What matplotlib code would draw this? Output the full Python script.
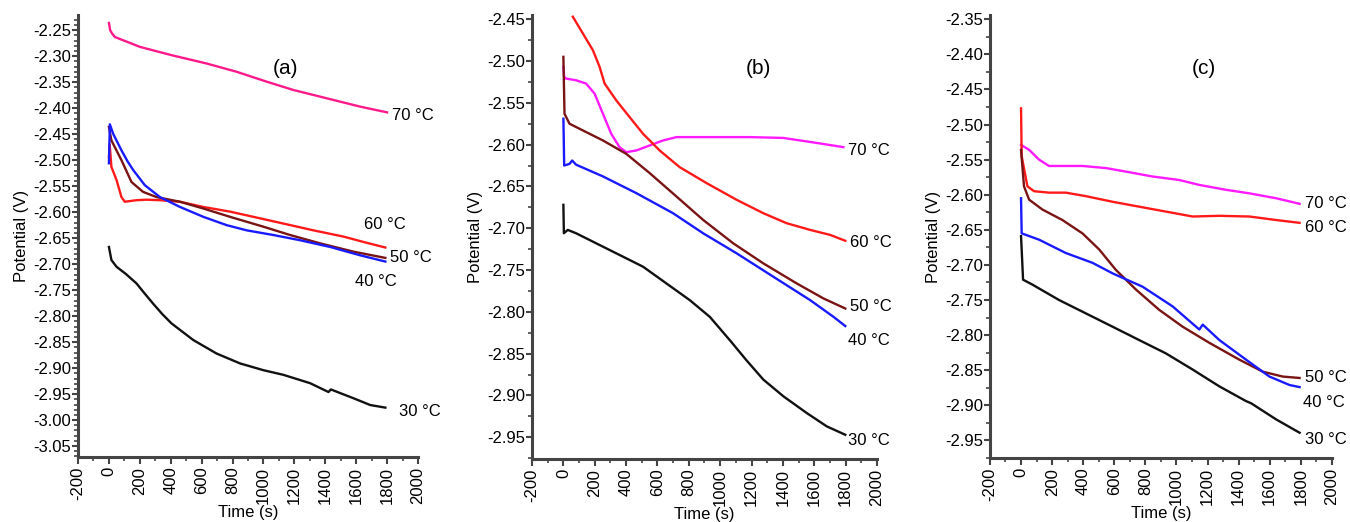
import numpy as np
import matplotlib
matplotlib.use('Agg')
import matplotlib.pyplot as plt
from matplotlib.ticker import MultipleLocator, FormatStrFormatter

plt.rcParams['font.family'] = ['Liberation Sans', 'DejaVu Sans']
plt.rcParams['axes.unicode_minus'] = False

# (time s, potential V), panel (a)
a_70 = [(0, -2.236), (8, -2.250), (20, -2.256), (38, -2.263), (200, -2.282), (405, -2.298),
        (632, -2.314), (827, -2.330), (1021, -2.349), (1194, -2.365), (1410, -2.381),
        (1626, -2.397), (1800, -2.408)]
a_60 = [(0, -2.494), (5, -2.470), (16, -2.513), (49, -2.538), (81, -2.571), (103, -2.580),
        (178, -2.577), (243, -2.576), (330, -2.577), (460, -2.580), (611, -2.590),
        (784, -2.599), (935, -2.609), (1130, -2.622), (1324, -2.635), (1518, -2.647),
        (1669, -2.659), (1789, -2.668)]
a_50 = [(0, -2.436), (16, -2.462), (81, -2.500), (146, -2.542), (221, -2.561), (308, -2.571),
        (460, -2.580), (611, -2.593), (784, -2.609), (1000, -2.628), (1173, -2.644),
        (1367, -2.660), (1583, -2.676), (1789, -2.688)]
a_40 = [(0, -2.506), (6, -2.431), (27, -2.449), (81, -2.481), (120, -2.502), (157, -2.519),
        (232, -2.548), (330, -2.571), (460, -2.590), (611, -2.609), (762, -2.625),
        (892, -2.635), (1065, -2.644), (1237, -2.654), (1432, -2.667), (1626, -2.683),
        (1789, -2.695)]
a_30 = [(0, -2.667), (16, -2.692), (49, -2.705), (110, -2.719), (178, -2.737), (230, -2.756),
        (286, -2.776), (345, -2.796), (405, -2.814), (546, -2.846), (697, -2.872),
        (849, -2.891), (1000, -2.904), (1130, -2.913), (1302, -2.929), (1421, -2.946),
        (1436, -2.941), (1583, -2.958), (1691, -2.971), (1789, -2.976)]

# panel (b)
b_70 = [(0, -2.507), (5, -2.519), (17, -2.521), (81, -2.523), (145, -2.527), (199, -2.539),
        (252, -2.563), (305, -2.587), (358, -2.603), (401, -2.609), (465, -2.607),
        (550, -2.601), (636, -2.595), (721, -2.591), (977, -2.591), (1190, -2.591),
        (1403, -2.592), (1616, -2.598), (1786, -2.603)]
b_60 = [(60, -2.447), (124, -2.467), (188, -2.487), (231, -2.507), (263, -2.527), (337, -2.547),
        (422, -2.567), (508, -2.587), (614, -2.607), (742, -2.627), (913, -2.646),
        (1105, -2.666), (1275, -2.682), (1424, -2.694), (1574, -2.702), (1702, -2.708),
        (1798, -2.715)]
b_50 = [(0, -2.495), (5, -2.543), (7, -2.563), (39, -2.575), (124, -2.583), (252, -2.595),
        (401, -2.611), (550, -2.634), (721, -2.662), (891, -2.690), (1083, -2.718),
        (1275, -2.742), (1488, -2.766), (1659, -2.784), (1798, -2.796)]
b_40 = [(0, -2.569), (2, -2.590), (5, -2.625), (39, -2.623), (56, -2.619), (81, -2.624),
        (252, -2.638), (465, -2.658), (699, -2.682), (891, -2.706), (1105, -2.730),
        (1339, -2.758), (1574, -2.786), (1723, -2.806), (1798, -2.817)]
b_30 = [(0, -2.672), (3, -2.706), (28, -2.702), (81, -2.706), (209, -2.718), (380, -2.734),
        (508, -2.746), (657, -2.766), (806, -2.786), (934, -2.806), (1062, -2.834),
        (1168, -2.858), (1275, -2.881), (1403, -2.901), (1552, -2.921), (1680, -2.937),
        (1798, -2.947)]

# panel (c)
c_70 = [(0, -2.529), (52, -2.536), (116, -2.550), (180, -2.559), (395, -2.559), (546, -2.562),
        (674, -2.567), (846, -2.574), (1018, -2.579), (1147, -2.586), (1319, -2.593),
        (1469, -2.598), (1641, -2.605), (1738, -2.610), (1792, -2.613)]
c_60 = [(0, -2.477), (4, -2.545), (41, -2.588), (84, -2.595), (180, -2.597), (288, -2.597),
        (417, -2.602), (589, -2.610), (760, -2.617), (932, -2.624), (1104, -2.631),
        (1276, -2.630), (1469, -2.631), (1641, -2.636), (1792, -2.640)]
c_50 = [(0, -2.536), (19, -2.588), (52, -2.607), (137, -2.621), (266, -2.636), (395, -2.655),
        (503, -2.678), (610, -2.707), (739, -2.735), (889, -2.764), (1040, -2.788),
        (1212, -2.811), (1405, -2.835), (1555, -2.852), (1684, -2.859), (1792, -2.861)]
c_40 = [(0, -2.605), (4, -2.655), (116, -2.664), (288, -2.683), (460, -2.697), (589, -2.712),
        (782, -2.731), (975, -2.759), (1147, -2.792), (1169, -2.785), (1276, -2.807),
        (1448, -2.835), (1598, -2.859), (1727, -2.871), (1792, -2.874)]
c_30 = [(0, -2.659), (13, -2.721), (73, -2.728), (245, -2.750), (417, -2.769), (589, -2.788),
        (760, -2.807), (932, -2.826), (1104, -2.849), (1276, -2.873), (1448, -2.894),
        (1480, -2.897), (1641, -2.920), (1792, -2.939)]

temps = ['70 °C', '60 °C', '50 °C', '40 °C', '30 °C']

# label positions (t, V) per panel, same order as temps
a_lbl = [(1830, -2.415), (1648, -2.623), (1821, -2.688), (1594, -2.733), (1875, -2.983)]
b_lbl = [(1818, -2.607), (1829, -2.717), (1829, -2.794), (1818, -2.834), (1818, -2.954)]
c_lbl = [(1824, -2.613), (1824, -2.647), (1824, -2.860), (1813, -2.896), (1824, -2.948)]

colors_a = ['#ff1a8c', '#ff1a1a', '#7a1414', '#1a1aff', '#111111']
colors_bc = ['#ff1aff', '#ff1a1a', '#7a1414', '#1a1aff', '#111111']

panels = [
    ('(a)', [a_70, a_60, a_50, a_40, a_30], a_lbl, colors_a, (-3.071, -2.221),
     (-3.05, -2.25), 0.01, (1140, -2.324), [0.0578, 0.1245, 0.2518, 0.8465]),
    ('(b)', [b_70, b_60, b_50, b_40, b_30], b_lbl, colors_bc, (-2.976, -2.445),
     (-2.95, -2.45), 0.025, (1243, -2.509), [0.3941, 0.1207, 0.2555, 0.8505]),
    ('(c)', [c_70, c_60, c_50, c_40, c_30], c_lbl, colors_bc, (-2.975, -2.344),
     (-2.95, -2.35), 0.025, (1179, -2.420), [0.7333, 0.1226, 0.2533, 0.8486]),
]

fig = plt.figure(figsize=(13.5, 5.22), dpi=100)

for tag, curves, lbls, cols, ylim, yt, yminor, tagpos, rect in panels:
    ax = fig.add_axes(rect)
    for curve, col in zip(curves, cols):
        arr = np.array(curve)
        ax.plot(arr[:, 0], arr[:, 1], color=col, lw=1.7, solid_joinstyle='round')
    for (tx, ty), name in zip(lbls, temps):
        ax.text(tx, ty, name, fontsize=12, ha='left', va='center')
    ax.text(tagpos[0], tagpos[1], tag, fontsize=15, ha='center', va='center')

    ax.set_xlim(-200, 2000)
    ax.set_ylim(*ylim)
    ax.set_xticks(np.arange(-200, 2001, 200))
    ax.xaxis.set_minor_locator(MultipleLocator(100))
    ax.set_yticks(np.arange(yt[0], yt[1] + 0.001, 0.05))
    ax.yaxis.set_minor_locator(MultipleLocator(yminor))
    ax.yaxis.set_major_formatter(FormatStrFormatter('%.2f'))
    ax.tick_params(axis='x', labelrotation=90, labelsize=12, length=5, width=1.5,
                   color='#444444', pad=2)
    ax.tick_params(axis='y', labelsize=12, length=4, width=1.5, color='#444444', pad=1)
    ax.tick_params(which='minor', length=3, width=1.2, color='#444444')

    for s in ['top', 'right']:
        ax.spines[s].set_visible(False)
    for s in ['left', 'bottom']:
        ax.spines[s].set_linewidth(2.2)
        ax.spines[s].set_color('#444444')

    ax.set_xlabel('Time (s)', fontsize=12, labelpad=1)
    ax.set_ylabel('Potential (V)', fontsize=12, labelpad=3)

fig.savefig('out.png', dpi=100)
